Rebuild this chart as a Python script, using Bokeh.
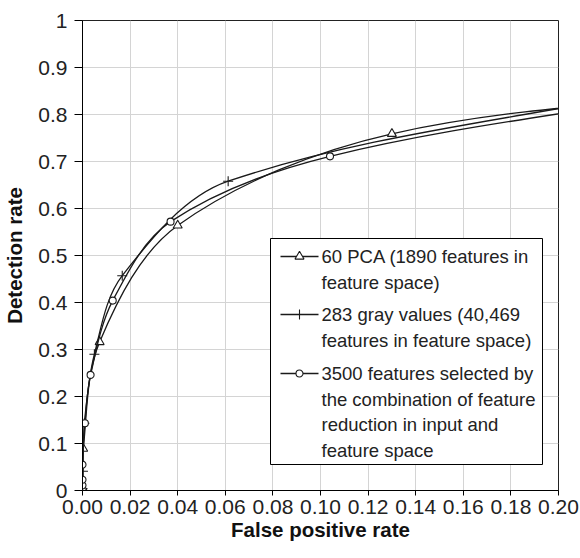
import numpy as np
from bokeh.plotting import figure
from bokeh.models import Range1d, FixedTicker, CustomJSTickFormatter, ColumnDataSource
from bokeh.core.properties import value
from bokeh.embed import file_html
from bokeh.resources import INLINE

# ---- data ----
x_ticks = [0.0, 0.02, 0.04, 0.06, 0.08, 0.10, 0.12, 0.14, 0.16, 0.18, 0.20]
x_labels = ["0.00", "0.02", "0.04", "0.06", "0.08", "0.10", "0.12", "0.14", "0.16", "0.18", "0.20"]
y_ticks = [0.0, 0.1, 0.2, 0.3, 0.4, 0.5, 0.6, 0.7, 0.8, 0.9, 1.0]
y_labels = ["0", "0.1", "0.2", "0.3", "0.4", "0.5", "0.6", "0.7", "0.8", "0.9", "1"]

# 60 PCA (triangles); last point lies beyond the visible x range
pca_x = [0.0, 0.0003, 0.0072, 0.040, 0.130, 0.30]
pca_y = [0.005, 0.089, 0.316, 0.564, 0.759, 0.86]

# 283 gray values (plus)
gray_x = [0.0, 0.0002, 0.0008, 0.005, 0.0167, 0.0612, 0.25]
gray_y = [0.004, 0.041, 0.143, 0.290, 0.457, 0.658, 0.86]

# 3500 selected features (circles)
sel_x = [0.0, 0.0, 0.0, 0.0, 0.001, 0.0034, 0.0127, 0.037, 0.104, 0.26]
sel_y = [0.003, 0.011, 0.023, 0.055, 0.143, 0.246, 0.404, 0.572, 0.711, 0.85]

legend_lines = [
    ["60 PCA (1890 features in", "feature space)"],
    ["283 gray values (40,469", "features in feature space)"],
    ["3500 features selected by", "the combination of feature",
     "reduction in input and", "feature space"],
]

FONT = "Liberation Sans"
INK = "#1a1a1a"

# ---- layout constants (pixels) ----
W, H = 580, 558
FL, FT, FW, FH = 82, 20, 476, 470
X0, X1, Y0, Y1 = 0.0, 0.2, 0.0, 1.0
ASPECT = (FW / (X1 - X0)) / (FH / (Y1 - Y0))  # x-scale relative to y-scale


def px2x(px):
    return X0 + (px - FL) / FW * (X1 - X0)


def py2y(py):
    return Y1 - (py - FT) / FH * (Y1 - Y0)


def smooth_segments(xs, ys):
    """Smooth Bezier through the points (chord-length scaled tangents)."""
    P = np.column_stack([np.asarray(xs, float) * ASPECT, np.asarray(ys, float)])
    n = len(P)
    d = np.hypot(*(P[1:] - P[:-1]).T)
    d = np.where(d < 1e-12, 1e-12, d)
    M = np.zeros_like(P)
    for i in range(n):
        if i == 0:
            M[i] = (P[1] - P[0]) / d[0]
        elif i == n - 1:
            M[i] = (P[-1] - P[-2]) / d[-1]
        else:
            M[i] = (P[i + 1] - P[i - 1]) / (d[i - 1] + d[i])
    out = dict(x0=[], y0=[], x1=[], y1=[], cx0=[], cy0=[], cx1=[], cy1=[])
    for i in range(n - 1):
        c1 = P[i] + M[i] * d[i] / 3.0
        c2 = P[i + 1] - M[i + 1] * d[i] / 3.0
        out["x0"].append(P[i][0] / ASPECT); out["y0"].append(P[i][1])
        out["x1"].append(P[i + 1][0] / ASPECT); out["y1"].append(P[i + 1][1])
        out["cx0"].append(c1[0] / ASPECT); out["cy0"].append(c1[1])
        out["cx1"].append(c2[0] / ASPECT); out["cy1"].append(c2[1])
    return out


p = figure(width=W, height=H, output_backend="svg", toolbar_location=None,
           x_range=Range1d(X0, X1), y_range=Range1d(Y0, Y1),
           min_border_left=FL, min_border_right=W - FL - FW, min_border_top=FT,
           min_border_bottom=H - FT - FH)
p.frame_width = FW
p.frame_height = FH
p.background_fill_color = "white"
p.border_fill_color = "white"
p.outline_line_color = "#222222"
p.outline_line_width = 1

# grid
p.xgrid.ticker = FixedTicker(ticks=x_ticks)
p.ygrid.ticker = FixedTicker(ticks=y_ticks)
for g in (p.xgrid, p.ygrid):
    g.grid_line_color = "#d4d4d4"
    g.grid_line_width = 1

# axes
p.xaxis.ticker = FixedTicker(ticks=x_ticks)
p.yaxis.ticker = FixedTicker(ticks=y_ticks)
fmt_code = """
for (let i = 0; i < tvals.length; i++) {
  if (Math.abs(tvals[i] - tick) < 1e-9) return tlabels[i];
}
return '';
"""
p.xaxis.formatter = CustomJSTickFormatter(args=dict(tvals=x_ticks, tlabels=x_labels), code=fmt_code)
p.yaxis.formatter = CustomJSTickFormatter(args=dict(tvals=y_ticks, tlabels=y_labels), code=fmt_code)
p.xaxis.axis_label = "False positive rate"
p.yaxis.axis_label = "Detection rate"
for ax in (p.xaxis, p.yaxis):
    ax.axis_line_color = "black"
    ax.axis_line_width = 1
    ax.major_tick_line_color = "black"
    ax.major_tick_in = 0
    ax.minor_tick_line_color = None
    ax.major_label_text_font = FONT
    ax.major_label_text_font_size = "21px"
    ax.major_label_text_color = "#222222"
    ax.axis_label_text_font = FONT
    ax.axis_label_text_font_size = "20.5px"
    ax.axis_label_text_font_style = "bold"
    ax.axis_label_text_color = "#111111"
p.xaxis.major_tick_out = 5
p.yaxis.major_tick_out = 8
p.xaxis.major_label_standoff = 4
p.yaxis.major_label_standoff = 7
p.xaxis.axis_label_standoff = 1
p.yaxis.axis_label_standoff = 9

series = [
    (pca_x, pca_y, "triangle", 9),
    (gray_x, gray_y, "cross", 10),
    (sel_x, sel_y, "circle", 7),
]

for xs, ys, marker, size in series:
    src = ColumnDataSource(smooth_segments(xs, ys))
    p.bezier(x0="x0", y0="y0", x1="x1", y1="y1", cx0="cx0", cy0="cy0",
             cx1="cx1", cy1="cy1", source=src, line_color=INK, line_width=1.3)
    p.scatter(xs, ys, marker=marker, size=size, line_color=INK,
              fill_color="white", line_width=1.1)

# ---- legend drawn by hand (glyph beside the first line of each entry) ----
LB_L, LB_R, LB_T, LB_B = 270, 542, 238, 464
p.quad(left=[px2x(LB_L)], right=[px2x(LB_R)], top=[py2y(LB_T)], bottom=[py2y(LB_B)],
       fill_color="white", line_color="black", line_width=1)

first_rows = [256, 314, 373]
row_step = 25.5
SAMPLE_L, SAMPLE_R, TEXT_X = 280, 318, 321
for (xs, ys, marker, size), lines, ry in zip(series, legend_lines, first_rows):
    p.line([px2x(SAMPLE_L), px2x(SAMPLE_R)], [py2y(ry), py2y(ry)],
           line_color=INK, line_width=1.3)
    p.scatter([px2x((SAMPLE_L + SAMPLE_R) / 2)], [py2y(ry)], marker=marker,
              size=size, line_color=INK, fill_color="white", line_width=1.1)
    tys = [py2y(ry + k * row_step) for k in range(len(lines))]
    p.text(x=[px2x(TEXT_X)] * len(lines), y=tys, text=lines,
           text_font=value(FONT), text_font_size="18.5px", text_color="#222222",
           text_baseline="middle", text_align="left")

open("out.html", "w").write(file_html(p, INLINE))
